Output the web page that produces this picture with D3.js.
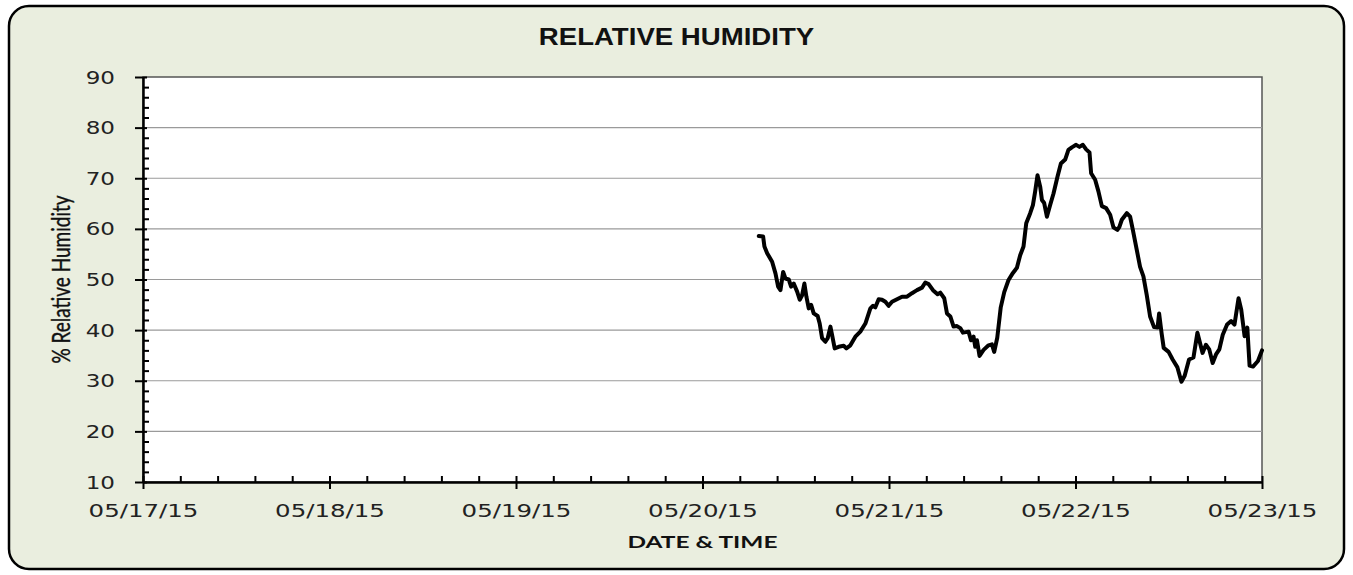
<!DOCTYPE html>
<html>
<head>
<meta charset="utf-8">
<script src="https://cdn.jsdelivr.net/npm/d3@7"></script>
<style>
  body { margin: 0; background: #ffffff; }
</style>
</head>
<body>
<div id="chart"></div>
<script>
/*
 Relative humidity logger chart.
 Readings are kept as hours after 05/20/15 00:00 plus the % RH value.
*/
var startDay = new Date(2015, 4, 17);
var endDay = new Date(2015, 4, 23);
var readingBase = new Date(2015, 4, 20);

var yTicks = [10, 20, 30, 40, 50, 60, 70, 80, 90];
var gridTicks = [20, 30, 40, 50, 60, 70, 80];

// hours after 05/20/15 00:00
var hours = [7.24, 7.80, 7.97, 8.32, 8.96, 9.39, 9.73, 10.03, 10.38, 10.67, 11.10, 11.40, 11.74, 12.18, 12.51, 12.82,
  13.11, 13.37, 13.67, 13.98, 14.31, 14.82, 15.08, 15.39, 15.81, 16.11, 16.46, 16.68, 17.01, 17.52, 18.17, 18.51,
  19.03, 19.67, 20.31, 20.96, 21.60, 21.95, 22.24, 22.67, 23.10, 23.53, 23.95, 24.39, 25.03, 25.68, 26.32, 26.96,
  27.60, 28.25, 28.67, 29.10, 29.66, 30.25, 30.60, 31.11, 31.46, 31.89, 32.31, 32.75, 33.17, 33.52, 34.24, 34.55,
  34.88, 35.10, 35.32, 35.65, 36.17, 36.81, 37.24, 37.54, 37.93, 38.38, 38.83, 39.38, 39.95, 40.46, 40.88, 41.31,
  41.66, 42.17, 42.52, 42.81, 43.11, 43.46, 43.68, 43.97, 44.32, 44.74, 45.17, 45.68, 46.12, 46.67, 47.09, 47.53,
  48.08, 48.51, 48.95, 49.37, 49.80, 50.01, 50.53, 50.95, 51.39, 51.94, 52.46, 52.88, 53.39, 53.65, 53.96, 54.60,
  55.03, 55.38, 55.89, 56.31, 56.74, 57.17, 57.60, 58.11, 58.56, 58.76, 59.08, 59.35, 59.98, 60.50, 61.10, 61.63,
  62.05, 62.61, 63.18, 63.69, 64.35, 64.78, 65.21, 65.65, 66.08, 66.51, 66.95, 67.51, 68.03, 68.46, 68.98, 69.32,
  69.76, 70.11, 70.40, 70.84, 71.48, 72.00];

// % relative humidity
var rh = [58.6, 58.5, 56.5, 55.2, 53.5, 51.2, 48.6, 47.9, 51.5, 50.2, 50.0, 48.6, 49.2, 47.6, 46.0, 46.9,
  49.2, 46.6, 44.3, 45.0, 43.3, 42.8, 41.3, 38.4, 37.7, 38.4, 40.7, 39.0, 36.4, 36.7, 36.9, 36.4,
  37.0, 38.7, 39.7, 41.3, 44.3, 44.8, 44.5, 46.1, 46.0, 45.6, 44.8, 45.6, 46.1, 46.6, 46.6, 47.3,
  47.9, 48.4, 49.4, 49.1, 47.9, 47.1, 47.4, 46.3, 43.3, 42.7, 40.7, 40.8, 40.4, 39.5, 39.7, 38.0,
  38.7, 36.7, 38.0, 34.9, 36.1, 37.0, 37.2, 35.7, 38.5, 44.5, 47.5, 49.9, 51.3, 52.3, 54.8, 56.5,
  61.1, 63.1, 64.7, 67.4, 70.6, 68.3, 65.7, 65.1, 62.4, 64.7, 67.0, 70.3, 72.9, 73.7, 75.6, 76.1,
  76.6, 76.2, 76.6, 75.7, 75.1, 71.0, 69.7, 67.4, 64.5, 64.1, 62.8, 60.3, 59.8, 60.4, 61.8, 63.1,
  62.4, 59.8, 55.8, 52.5, 50.6, 46.9, 42.7, 40.6, 40.5, 43.3, 39.4, 36.5, 35.7, 34.2, 32.7, 29.8,
  31.0, 34.2, 34.6, 39.5, 35.5, 37.1, 36.2, 33.5, 35.2, 36.2, 39.1, 41.1, 41.8, 41.1, 46.3, 44.1,
  38.8, 40.5, 33.0, 32.8, 33.9, 36.0];

var titleText = "RELATIVE HUMIDITY";
var xTitle = "DATE & TIME";
var yTitle = "% Relative Humidity";

var W = 1353, H = 575;
// the original picture is stretched sideways, text gets the same treatment
var stretch = 1.28;

var margin = {left: 143, right: 91, top: 77, bottom: 93};

var svg = d3.select("#chart").append("svg")
  .attr("width", W)
  .attr("height", H);

// outer rounded panel
svg.append("rect")
  .attr("x", 9).attr("y", 6)
  .attr("width", W - 18).attr("height", H - 12)
  .attr("rx", 20).attr("ry", 20)
  .attr("fill", "#eaeedf")
  .attr("stroke", "#000")
  .attr("stroke-width", 2.5);

var x = d3.scaleTime()
  .domain([startDay, endDay])
  .range([margin.left, W - margin.right]);

var y = d3.scaleLinear()
  .domain([10, 90])
  .range([H - margin.bottom, margin.top]);

// plot area
svg.append("rect")
  .attr("x", x.range()[0]).attr("y", y(90))
  .attr("width", x.range()[1] - x.range()[0])
  .attr("height", y(10) - y(90))
  .attr("fill", "#fff")
  .attr("stroke", "#555")
  .attr("stroke-width", 1.5);

// horizontal grid lines
svg.append("g").selectAll("line")
  .data(gridTicks)
  .enter().append("line")
  .attr("x1", x.range()[0]).attr("x2", x.range()[1])
  .attr("y1", function(d){ return y(d); })
  .attr("y2", function(d){ return y(d); })
  .attr("stroke", "#9a9a9a")
  .attr("stroke-width", 1.2);

// the readings
var line = d3.line()
  .x(function(d, i){ return x(new Date(+readingBase + hours[i] * 3600e3)); })
  .y(function(d){ return y(d); })
  .curve(d3.curveLinear);

svg.append("path")
  .datum(rh)
  .attr("d", line)
  .attr("fill", "none")
  .attr("stroke", "#000")
  .attr("stroke-width", 4)
  .attr("stroke-linejoin", "round")
  .attr("stroke-linecap", "round");

// minor ticks first, they point into the plot
var minorY = d3.range(10, 91, 2).filter(function(v){ return v % 10 != 0; });
svg.append("g")
  .attr("transform", "translate(" + margin.left + ",0)")
  .call(d3.axisLeft(y).tickValues(minorY).tickSize(-6).tickFormat(""))
  .call(function(g){ g.select(".domain").remove(); })
  .selectAll("line").attr("stroke", "#000").attr("stroke-width", 2);

var minorX = [];
for (var d = 0; d < 6; d++) {
  for (var k = 1; k < 5; k++) {
    minorX.push(new Date(+startDay + (d + k / 5) * 864e5));
  }
}
svg.append("g")
  .attr("transform", "translate(0," + y(10) + ")")
  .call(d3.axisBottom(x).tickValues(minorX).tickSize(-6).tickFormat(""))
  .call(function(g){ g.select(".domain").remove(); })
  .selectAll("line").attr("stroke", "#000").attr("stroke-width", 2);

// y axis with major ticks crossing the line
var yAxis = svg.append("g")
  .attr("transform", "translate(" + margin.left + ",0)")
  .call(d3.axisLeft(y).tickValues(yTicks).tickFormat(d3.format("d")).tickSizeOuter(0));
yAxis.select(".domain").attr("stroke", "#000").attr("stroke-width", 2.5);
yAxis.selectAll(".tick line").attr("x1", -8).attr("x2", 4).attr("stroke", "#000").attr("stroke-width", 2);
yAxis.selectAll(".tick text")
  .attr("x", null).attr("dy", "0.34em")
  .attr("transform", "translate(-28,0) scale(" + stretch + ",1)")
  .attr("fill", "#222")
  .style("font-family", "'DejaVu Sans', Verdana, sans-serif")
  .style("font-size", "18px");

var dayTicks = d3.timeDay.range(startDay, new Date(+endDay + 1));
var xAxis = svg.append("g")
  .attr("transform", "translate(0," + y(10) + ")")
  .call(d3.axisBottom(x).tickValues(dayTicks).tickFormat(d3.timeFormat("%m/%d/%y")).tickSizeOuter(0));
xAxis.select(".domain").attr("stroke", "#000").attr("stroke-width", 2.5);
xAxis.selectAll(".tick line").attr("y1", -6).attr("y2", 7).attr("stroke", "#000").attr("stroke-width", 2);
xAxis.selectAll(".tick text")
  .attr("y", null).attr("dy", null)
  .attr("transform", "translate(0,35) scale(1.36,1)")
  .attr("fill", "#222")
  .style("font-family", "'DejaVu Sans', Verdana, sans-serif")
  .style("font-size", "18px");

// titles
svg.append("text")
  .attr("transform", "translate(" + (W / 2) + ",45) scale(1.2,1)")
  .attr("text-anchor", "middle")
  .style("font-family", "'Liberation Sans', Arial, sans-serif")
  .style("font-weight", "bold")
  .style("font-size", "23px")
  .attr("fill", "#111")
  .text(titleText);

svg.append("text")
  .attr("transform", "translate(" + ((x.range()[0] + x.range()[1]) / 2) + ",548) scale(1.4,1)")
  .attr("text-anchor", "middle")
  .style("font-family", "Lato, 'Open Sans', sans-serif")
  .style("font-weight", "bold")
  .style("font-size", "17.5px")
  .attr("fill", "#111")
  .text(xTitle);

svg.append("text")
  .attr("transform", "translate(70," + ((y(10) + y(90)) / 2) + ") scale(1.3,1) rotate(-90)")
  .attr("text-anchor", "middle")
  .style("font-family", "Lato, 'Open Sans', sans-serif")
  .style("font-size", "19px")
  .attr("fill", "#111")
  .attr("stroke", "#111")
  .attr("stroke-width", 0.3)
  .text(yTitle);
</script>
</body>
</html>
